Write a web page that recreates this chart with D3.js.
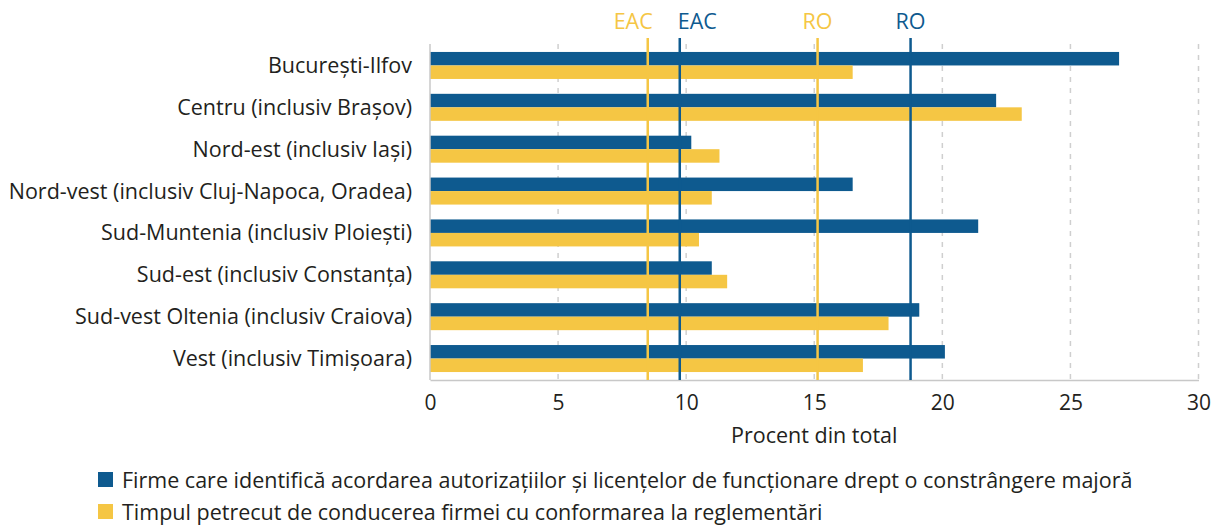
<!DOCTYPE html>
<html>
<head>
    <meta charset="utf-8">
    <title>Constrangeri firme pe regiuni</title>
    <script src="https://d3js.org/d3.v7.min.js"></script>
    <style>
        body { margin: 0; background: #fff; }
        text { font-family: "Open Sans", sans-serif; fill: #231f20; }
        .axis text { font-size: 21px; font-family: "Open Sans", sans-serif; fill: #231f20; }
    </style>
</head>
<body>
<div id="chart"></div>
<script>
    // regiuni (de sus in jos)
    const regions = [
        "București-Ilfov",
        "Centru (inclusiv Brașov)",
        "Nord-est (inclusiv Iași)",
        "Nord-vest (inclusiv Cluj-Napoca, Oradea)",
        "Sud-Muntenia (inclusiv Ploiești)",
        "Sud-est (inclusiv Constanța)",
        "Sud-vest Oltenia (inclusiv Craiova)",
        "Vest (inclusiv Timișoara)"
    ];
    // serie albastra: autorizatii si licente
    const licente = [26.9, 22.1, 10.2, 16.5, 21.4, 11.0, 19.1, 20.1];
    // serie galbena: timp petrecut cu reglementarile
    const timp = [16.5, 23.1, 11.3, 11.0, 10.5, 11.6, 17.9, 16.9];
    const xTicks = [0, 5, 10, 15, 20, 25, 30];
    // medii de referinta
    const refLines = [
        {label: "EAC", value: 8.5, serie: "timp", anchor: "end"},
        {label: "EAC", value: 9.75, serie: "licente", anchor: "start"},
        {label: "RO", value: 15.13, serie: "timp", anchor: "middle"},
        {label: "RO", value: 18.76, serie: "licente", anchor: "middle"}
    ];
    const legendLabels = [
        "Firme care identifică acordarea autorizațiilor și licențelor de funcționare drept o constrângere majoră",
        "Timpul petrecut de conducerea firmei cu conformarea la reglementări"
    ];

    const colors = {licente: "#0e5a8f", timp: "#f5c644"};
    const fs = "21.5px";

    const width = 1213, height = 525;
    const margin = {top: 44, left: 430, right: 14, bottom: 145};
    const w = width - margin.left - margin.right;
    const h = height - margin.top - margin.bottom;

    const svg = d3.select("#chart").append("svg")
        .attr("width", width)
        .attr("height", height);

    const g = svg.append("g")
        .attr("transform", "translate(" + margin.left + "," + margin.top + ")");

    const x = d3.scaleLinear().domain([0, 30]).range([0, w - 0.5]);
    const y = d3.scaleBand().domain(regions).range([0, h])
        .paddingInner(0.355).paddingOuter(0.19);
    const sub = d3.scaleBand().domain(["licente", "timp"]).range([0, y.bandwidth()]);

    // grila verticala punctata
    g.selectAll(".grid")
        .data(xTicks.slice(1))
        .enter().append("line")
        .attr("x1", d => x(d)).attr("x2", d => x(d))
        .attr("y1", 0).attr("y2", h)
        .attr("stroke", "#cfcfcf")
        .attr("stroke-width", 1.5)
        .attr("stroke-dasharray", "5,6");

    // bare
    const rows = g.selectAll(".row")
        .data(regions)
        .enter().append("g")
        .attr("transform", d => "translate(0," + y(d) + ")");

    rows.append("rect")
        .attr("x", 0)
        .attr("y", sub("licente"))
        .attr("height", sub.bandwidth())
        .attr("width", (d, i) => x(licente[i]))
        .attr("fill", colors.licente);

    rows.append("rect")
        .attr("x", 0)
        .attr("y", sub("timp"))
        .attr("height", sub.bandwidth())
        .attr("width", (d, i) => x(timp[i]))
        .attr("fill", colors.timp);

    // axa x
    const xAxis = d3.axisBottom(x).tickValues(xTicks).tickSize(0).tickPadding(15);
    const ax = g.append("g")
        .attr("class", "axis")
        .attr("transform", "translate(0," + h + ")")
        .call(xAxis);
    ax.select(".domain").attr("stroke", "#c8c8c8").attr("stroke-width", 1.5);

    // axa y (linie + etichete)
    g.append("line")
        .attr("x1", 0).attr("x2", 0)
        .attr("y1", 0).attr("y2", h)
        .attr("stroke", "#c8c8c8").attr("stroke-width", 1.5);

    g.selectAll(".cat")
        .data(regions)
        .enter().append("text")
        .attr("x", -18)
        .attr("y", d => y(d) + y.bandwidth() / 2)
        .attr("dy", "0.35em")
        .attr("text-anchor", "end")
        .style("font-size", fs)
        .text(d => d);

    // liniile de referinta
    g.selectAll(".ref")
        .data(refLines)
        .enter().append("line")
        .attr("x1", d => x(d.value)).attr("x2", d => x(d.value))
        .attr("y1", -6).attr("y2", h)
        .attr("stroke", d => colors[d.serie])
        .attr("stroke-width", 2.5);

    g.selectAll(".reflabel")
        .data(refLines)
        .enter().append("text")
        .attr("x", d => x(d.value) + (d.anchor === "end" ? 5 : d.anchor === "start" ? -2 : 0))
        .attr("y", -15)
        .attr("text-anchor", d => d.anchor)
        .style("font-size", fs)
        .style("fill", d => colors[d.serie])
        .text(d => d.label);

    // titlul axei x
    g.append("text")
        .attr("x", x(15))
        .attr("y", h + 63)
        .attr("text-anchor", "middle")
        .style("font-size", fs)
        .text("Procent din total");

    // legenda
    const leg = svg.selectAll(".leg")
        .data(["licente", "timp"])
        .enter().append("g")
        .attr("transform", (d, i) => "translate(98," + (472 + i * 32) + ")");
    leg.append("rect")
        .attr("width", 15).attr("height", 15)
        .attr("fill", d => colors[d]);
    leg.append("text")
        .attr("x", 24)
        .attr("y", 15.5)
        .style("font-size", fs)
        .text((d, i) => legendLabels[i]);
</script>
</body>
</html>
